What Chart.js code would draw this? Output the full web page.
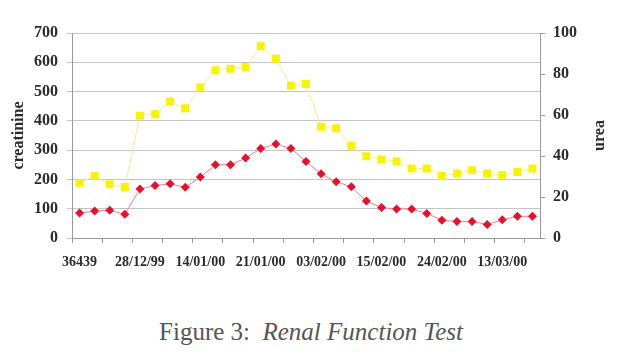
<!DOCTYPE html>
<html>
<head>
<meta charset="utf-8">
<script src="https://cdn.jsdelivr.net/npm/chart.js@4"></script>
<style>
  body { margin: 0; background: #fff; }
  #wrap { position: relative; width: 622px; height: 290px; }
  #caption {
    position: absolute; left: 0; top: 317px; width: 622px; text-align: center;
    font-family: "Times New Roman", "Liberation Serif", Times, serif; font-size: 25px; line-height: 30px; color: #555;
  }
</style>
</head>
<body>
<div id="wrap"><canvas id="renalChart"></canvas></div>
<div id="caption">Figure 3:&nbsp; <i>Renal Function Test</i></div>
<script>
const dates = ['36439', '', '', '', '28/12/99', '', '', '', '14/01/00', '', '', '',
  '21/01/00', '', '', '', '03/02/00', '', '', '', '15/02/00', '', '', '',
  '24/02/00', '', '', '', '13/03/00', '', ''];
const creatinine = [85, 92, 95, 81, 167, 179, 185, 173, 208, 250, 250, 273, 306, 321, 306, 261,
  219, 192, 175, 126, 104, 99, 99, 84, 61, 56, 56, 46, 62, 74, 74];
const urea = [26.9, 30.3, 26.2, 24.9, 59.6, 60.4, 66.6, 63.3, 73.4, 81.8, 82.6, 83.4, 93.5, 87.4, 74.3, 75.1,
  54.3, 53.5, 45.0, 39.9, 38.3, 37.5, 33.9, 33.9, 30.3, 31.5, 33.1, 31.5, 30.6, 32.2, 33.9];

const textColor = '#2b2b2b';
const serif = '"Times New Roman", "Liberation Serif", Times, serif';
const tickFont = { family: serif, size: 16, weight: 'bold' };

const rightTitle = {
  id: 'rightTitle',
  afterDraw(chart) {
    const ctx = chart.ctx;
    const area = chart.chartArea;
    ctx.save();
    ctx.translate(600, (area.top + area.bottom) / 2);
    ctx.rotate(-Math.PI / 2);
    ctx.font = 'bold 16px ' + serif;
    ctx.fillStyle = textColor;
    ctx.textAlign = 'center';
    ctx.textBaseline = 'middle';
    ctx.fillText('urea', 0, 0);
    ctx.restore();
  }
};

new Chart('renalChart', {
  type: 'line',
  data: {
    labels: dates,
    datasets: [{
      label: 'creatinine',
      data: creatinine,
      yAxisID: 'y',
      borderColor: '#f08088',
      borderWidth: 1,
      pointStyle: 'rectRot',
      pointRadius: 4.5,
      pointBorderWidth: 0,
      pointBackgroundColor: '#e8102c',
      lineTension: 0,
      fill: false
    }, {
      label: 'urea',
      data: urea,
      yAxisID: 'y1',
      borderColor: '#f4ee90',
      borderWidth: 1,
      pointStyle: 'rect',
      pointRadius: 5.6,
      pointBorderWidth: 0,
      pointBackgroundColor: '#f8f400',
      lineTension: 0,
      fill: false
    }]
  },
  options: {
    responsive: true,
    maintainAspectRatio: false,
    animation: false,
    layout: { padding: { top: 33, left: 0, right: 0, bottom: 0 } },
    plugins: { legend: { display: false }, tooltip: { enabled: false } },
    scales: {
      x: {
        offset: true,
        afterFit(s) { s.height = 52; },
        border: { color: '#999' },
        grid: {
          offset: true,
          drawOnChartArea: false,
          tickLength: 5,
          color: c => (c.index % 2 === 0 ? '#999' : 'rgba(0,0,0,0)')
        },
        ticks: {
          autoSkip: false, maxRotation: 0, minRotation: 0, padding: 11,
          color: textColor, font: { family: serif, size: 14, weight: 'bold' }
        }
      },
      y: {
        position: 'left',
        min: 0, max: 700,
        afterFit(s) { s.width = 72; },
        border: { color: '#999' },
        grid: { color: '#c4c4c4', tickLength: 5 },
        ticks: { stepSize: 100, padding: 9, color: textColor, font: tickFont },
        title: {
          display: true, text: 'creatinine', color: textColor,
          font: { family: serif, size: 16, weight: 'bold' },
          padding: { top: 9, bottom: 0 }
        }
      },
      y1: {
        position: 'right',
        min: 0, max: 100,
        afterFit(s) { s.width = 82; },
        border: { color: '#999' },
        grid: { drawOnChartArea: false, color: '#999', tickLength: 5 },
        ticks: { stepSize: 20, padding: 8, color: textColor, font: tickFont }
      }
    }
  },
  plugins: [rightTitle]
});
</script>
</body>
</html>
